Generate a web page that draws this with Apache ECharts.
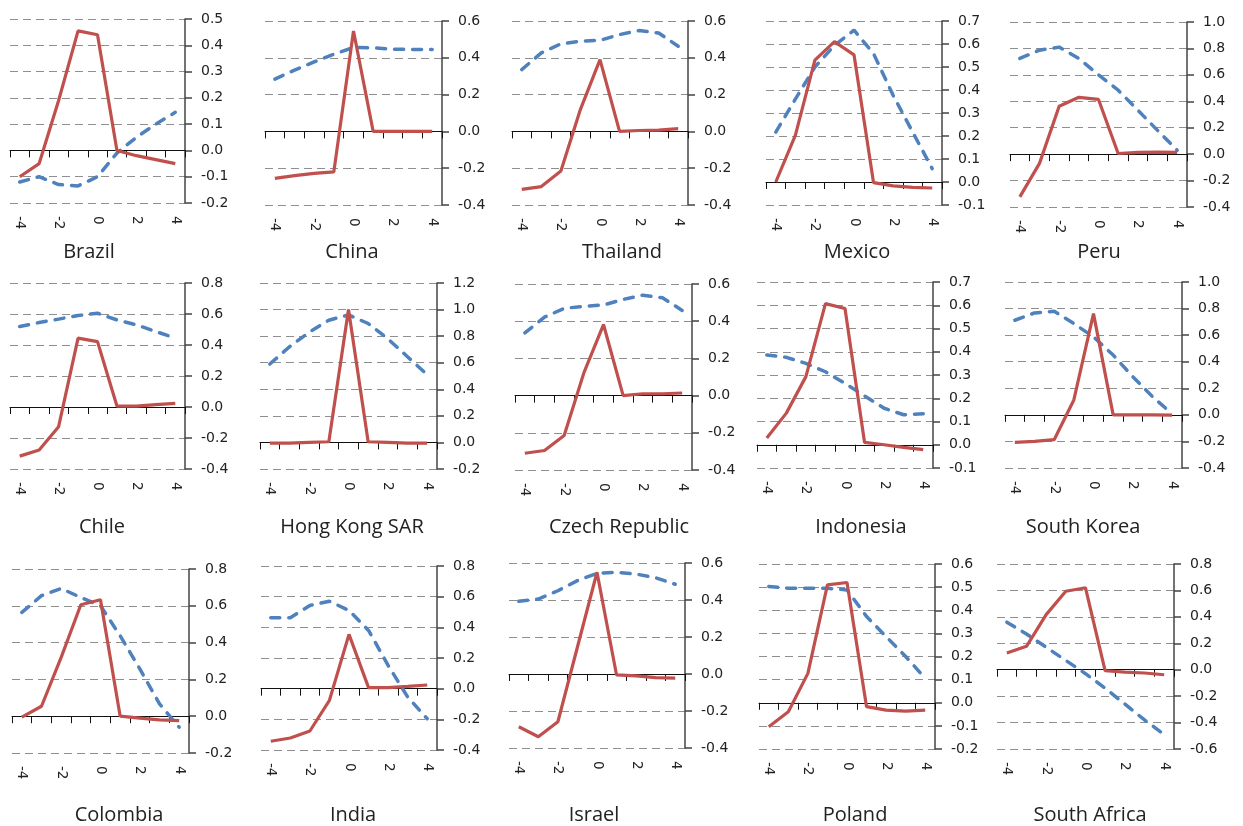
<!DOCTYPE html>
<html><head><meta charset="utf-8">
<script src="https://cdn.jsdelivr.net/npm/echarts@6/dist/echarts.min.js"></script>
<style>html,body{margin:0;padding:0;background:#fff}#c{width:1243px;height:826px}</style>
</head><body><div id="c"></div>
<script>
// ---------- data ----------
const periods = ['-4','-3','-2','-1','0','1','2','3','4'];
const countries = ['Brazil','China','Thailand','Mexico','Peru','Chile','Hong Kong SAR','Czech Republic','Indonesia','South Korea','Colombia','India','Israel','Poland','South Africa'];
const axisMin  = [-0.2,-0.4,-0.4,-0.1,-0.4,-0.4,-0.2,-0.4,-0.1,-0.4,-0.2,-0.4,-0.4,-0.2,-0.6];
const axisMax  = [0.5,0.6,0.6,0.7,1.0,0.8,1.2,0.6,0.7,1.0,0.8,0.8,0.6,0.6,0.8];
const axisStep = [0.1,0.2,0.2,0.1,0.2,0.2,0.2,0.2,0.1,0.2,0.2,0.2,0.2,0.1,0.2];

const brazilRed   = [-0.10,-0.05,0.19,0.455,0.44,0.0,-0.02,-0.035,-0.05];
const brazilBlue  = [-0.12,-0.10,-0.13,-0.135,-0.10,-0.01,0.05,0.10,0.145];
const chinaRed    = [-0.255,-0.24,-0.228,-0.22,0.546,0.0,0.0,0.0,0.0];
const chinaBlue   = [0.284,0.333,0.378,0.42,0.456,0.454,0.447,0.445,0.445];
const thailandRed = [-0.315,-0.30,-0.215,0.12,0.39,0.0,0.005,0.007,0.015];
const thailandBlue= [0.336,0.427,0.476,0.49,0.495,0.526,0.548,0.535,0.463];
const mexicoRed   = [0.0,0.203,0.53,0.61,0.553,-0.003,-0.017,-0.023,-0.026];
const mexicoBlue  = [0.217,0.36,0.50,0.594,0.66,0.558,0.377,0.217,0.058];
const peruRed     = [-0.323,-0.07,0.363,0.43,0.414,0.005,0.013,0.015,0.013];
const peruBlue    = [0.724,0.787,0.81,0.724,0.6,0.484,0.333,0.18,0.03];
const chileRed    = [-0.317,-0.278,-0.127,0.444,0.422,0.006,0.006,0.015,0.024];
const chileBlue   = [0.519,0.545,0.567,0.59,0.605,0.562,0.53,0.487,0.444];
const hongKongRed = [-0.005,-0.005,0.0,0.005,1.0,0.005,0.0,-0.005,-0.005];
const hongKongBlue= [0.59,0.72,0.83,0.92,0.96,0.895,0.78,0.645,0.51];
const czechRed    = [-0.31,-0.295,-0.214,0.122,0.382,0.0,0.01,0.01,0.014];
const czechBlue   = [0.337,0.422,0.469,0.48,0.487,0.517,0.54,0.526,0.458];
const indonesiaRed= [0.029,0.136,0.293,0.607,0.586,0.01,0.0,-0.011,-0.021];
const indonesiaBlue=[0.386,0.376,0.35,0.314,0.264,0.21,0.157,0.129,0.133];
const koreaRed    = [-0.207,-0.2,-0.187,0.112,0.762,0.0,0.0,0.0,-0.002];
const koreaBlue   = [0.712,0.767,0.78,0.687,0.587,0.45,0.287,0.137,0.007];
const colombiaRed = [-0.005,0.054,0.32,0.606,0.633,0.0,-0.01,-0.02,-0.024];
const colombiaBlue= [0.564,0.655,0.694,0.645,0.6,0.437,0.257,0.067,-0.06];
const indiaRed    = [-0.343,-0.322,-0.276,-0.076,0.354,0.007,0.007,0.015,0.024];
const indiaBlue   = [0.463,0.463,0.543,0.57,0.51,0.38,0.152,-0.054,-0.196];
const israelRed   = [-0.285,-0.339,-0.258,0.146,0.55,-0.005,-0.01,-0.02,-0.022];
const israelBlue  = [0.393,0.405,0.45,0.505,0.544,0.55,0.54,0.52,0.485];
const polandRed   = [-0.104,-0.039,0.127,0.51,0.52,-0.017,-0.032,-0.036,-0.032];
const polandBlue  = [0.503,0.495,0.495,0.495,0.488,0.373,0.286,0.2,0.105];
const southAfricaRed = [0.126,0.177,0.417,0.594,0.62,-0.008,-0.018,-0.025,-0.038];
const southAfricaBlue= [0.36,0.27,0.17,0.07,-0.03,-0.14,-0.26,-0.38,-0.49];

const redSeries  = [brazilRed,chinaRed,thailandRed,mexicoRed,peruRed,chileRed,hongKongRed,czechRed,indonesiaRed,koreaRed,colombiaRed,indiaRed,israelRed,polandRed,southAfricaRed];
const blueSeries = [brazilBlue,chinaBlue,thailandBlue,mexicoBlue,peruBlue,chileBlue,hongKongBlue,czechBlue,indonesiaBlue,koreaBlue,colombiaBlue,indiaBlue,israelBlue,polandBlue,southAfricaBlue];

// ---------- layout (plot rectangles: left, right, top, bottom) ----------
const panelRects = [
  [10,185,19,203],[265,442,21,205],[512,688,21,205],[766,942,21,205],[1010,1187,22,207],
  [10,185,283,469],[260,437,283,469],[515,692,284,470],[757,933,282,468],[1005,1182,282,468],
  [12,189,569,753],[261,437,566,750],[509,685,563,748],[759,935,564,749],[997,1174,564,749]
];
const titleX = [89,352,622,857,1099, 102,352,619,861,1083, 119,353,594,855,1090];
const titleRowY = [252,527,815];

const RED = '#C0504D', BLUE = '#4F81BD';
const grids = [], xAxes = [], yAxes = [], series = [], graphics = [];
const fmt = v => (Math.abs(v) < 1e-9 ? '0.0' : v.toFixed(1));

countries.forEach((name, i) => {
  const [L, R, T, B] = panelRects[i];
  grids.push({ left: L, top: T, width: R - L, height: B - T });
  xAxes.push({
    type: 'category', gridIndex: i, data: periods, boundaryGap: true, position: 'bottom',
    axisLine: { show: true, onZero: true, lineStyle: { color: '#111', width: 1 } },
    axisTick: { show: true, interval: 0, length: 7, lineStyle: { color: '#111', width: 1 } },
    axisLabel: { show: false }, splitLine: { show: false }
  });
  xAxes.push({
    type: 'category', gridIndex: i, data: periods, boundaryGap: true, position: 'bottom',
    axisLine: { show: false, onZero: false }, axisTick: { show: false },
    axisLabel: { show: true, interval: 1, rotate: -90, margin: 13, fontSize: 13.5,
      fontFamily: 'DejaVu Sans', color: '#222' },
    splitLine: { show: false }
  });
  yAxes.push({
    type: 'value', gridIndex: i, position: 'right',
    min: axisMin[i], max: axisMax[i], interval: axisStep[i],
    axisLine: { show: true, lineStyle: { color: '#444', width: 1.5 } },
    axisTick: { show: true, length: 7, lineStyle: { color: '#444', width: 1.5 } },
    axisLabel: { show: true, formatter: fmt, margin: 16, fontSize: 14,
      fontFamily: 'DejaVu Sans', color: '#222' },
    splitLine: { show: true, lineStyle: { color: '#8f8f8f', width: 1, type: [8, 5] } }
  });
  series.push({
    name: name + ' (dashed)', type: 'line', xAxisIndex: 2 * i, yAxisIndex: i,
    data: blueSeries[i], symbol: 'none', silent: true,
    lineStyle: { color: BLUE, width: 3.5, type: [9, 9], cap: 'round' }, z: 3
  });
  series.push({
    name: name + ' (solid)', type: 'line', xAxisIndex: 2 * i, yAxisIndex: i,
    data: redSeries[i], symbol: 'none', silent: true,
    lineStyle: { color: RED, width: 3.2 }, z: 4
  });
  graphics.push({
    type: 'text', x: titleX[i], y: titleRowY[Math.floor(i / 5)],
    style: { text: name, align: 'center', verticalAlign: 'middle',
      textAlign: 'center', textVerticalAlign: 'middle',
      fontSize: 20, fontFamily: 'Open Sans', fill: '#222' }
  });
});

const chart = echarts.init(document.getElementById('c'), null, { renderer: 'canvas' });
chart.setOption({
  animation: false,
  backgroundColor: '#fff',
  grid: grids, xAxis: xAxes, yAxis: yAxes, series: series,
  graphic: graphics
});
</script>
</body></html>
